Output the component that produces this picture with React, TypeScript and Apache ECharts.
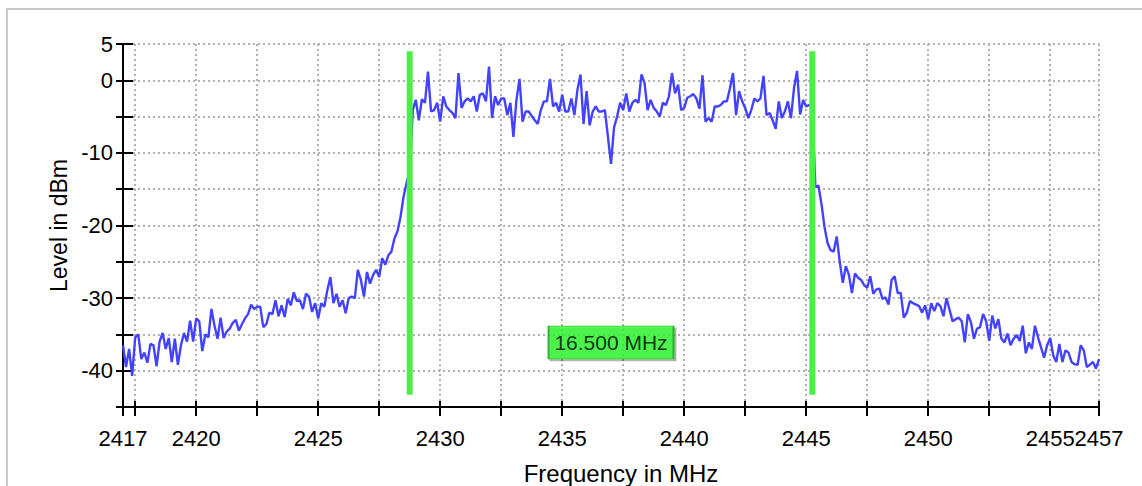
import React, { useEffect, useRef } from "react";
import * as echarts from "echarts";

// Sweep: first frequency and step (MHz); one level per sample (dBm)
const FREQ_START = 2417;
const FREQ_STEP = 0.125;
const levels = [
  -36.5, -39.5, -37.0, -40.7, -35.4, -35.0, -38.4, -37.5, -38.9, -36.3,
  -36.5, -39.4, -36.0, -34.8, -37.0, -35.5, -38.8, -35.6, -39.2, -36.5,
  -34.8, -36.0, -33.1, -36.0, -32.8, -33.2, -37.3, -35.0, -35.4, -31.5,
  -33.8, -35.6, -32.7, -35.5, -34.6, -34.2, -33.4, -33.0, -34.5, -33.6,
  -32.8, -32.2, -30.9, -31.5, -31.2, -31.2, -34.0, -33.6, -32.0, -32.2,
  -30.3, -32.5, -31.0, -32.6, -30.1, -31.0, -29.2, -30.4, -30.3, -31.5,
  -29.4, -29.8, -31.9, -30.7, -32.8, -30.7, -31.2, -28.9, -27.1, -30.7,
  -29.4, -31.2, -30.3, -32.1, -30.0, -29.8, -30.0, -26.1, -27.5, -29.8,
  -26.4, -28.0, -26.8, -26.1, -27.1, -24.5, -25.4, -24.1, -23.6, -21.8,
  -20.8, -18.8, -16.0, -14.1, -12.5, -4.1, -2.7, -5.5, -2.6, -3.1,
  1.2, -4.3, -4.1, -3.1, -5.7, -2.2, -3.6, -4.1, -4.5, -5.2,
  1.0, -3.8, -2.9, -2.5, -2.9, -2.2, -4.3, -2.0, -1.8, -2.9,
  1.9, -5.2, -2.2, -3.4, -2.5, -2.5, -4.8, -3.1, -7.8, -2.7,
  0.2, -5.7, -4.3, -4.3, -4.9, -5.5, -6.0, -4.1, -2.9, -2.9,
  0.2, -3.6, -3.1, -4.3, -2.0, -4.3, -4.3, -2.5, -4.8, -1.3,
  0.8, -6.0, -1.5, -6.2, -4.3, -3.6, -4.3, -4.3, -4.1, -7.8,
  -11.5, -6.5, -5.0, -3.1, -4.1, -1.8, -4.3, -3.1, -2.7, -3.1,
  0.8, -0.4, -4.1, -2.7, -3.8, -4.3, -5.0, -3.1, -3.4, -2.2,
  1.0, -1.8, -0.6, -4.1, -3.8, -2.4, -2.2, -1.9, -2.5, -3.9,
  0.7, -5.7, -5.2, -5.7, -3.6, -3.6, -3.4, -2.9, -2.9, -1.1,
  1.0, -4.8, -1.5, -2.9, -3.8, -5.2, -4.1, -2.5, -2.9, -2.5,
  0.6, -4.8, -4.5, -5.5, -6.7, -2.9, -5.2, -4.3, -2.9, -5.2,
  -1.1, 1.3, -4.7, -2.7, -3.6, -3.4, -3.6, -14.7, -14.5, -17.0,
  -20.2, -22.4, -23.4, -23.6, -21.5, -25.0, -27.9, -25.6, -26.8, -29.3,
  -26.6, -27.2, -27.5, -28.2, -28.6, -27.0, -29.4, -28.8, -28.7, -30.1,
  -29.9, -30.9, -27.5, -27.0, -29.3, -29.3, -32.7, -32.0, -30.4, -30.7,
  -30.9, -31.1, -32.0, -31.0, -32.9, -30.7, -31.8, -30.7, -31.1, -32.5,
  -30.0, -31.6, -33.2, -32.9, -32.7, -33.2, -36.1, -32.2, -33.3, -35.6,
  -34.2, -34.0, -32.2, -33.2, -35.9, -32.4, -34.2, -32.9, -35.6, -36.1,
  -34.9, -36.5, -35.6, -35.1, -35.9, -33.8, -37.6, -36.1, -37.0, -33.8,
  -35.4, -36.8, -38.2, -36.5, -35.5, -37.9, -38.8, -36.3, -38.8, -37.2,
  -37.5, -38.8, -39.1, -39.2, -36.5, -37.2, -39.5, -39.2, -38.8, -39.7, -38.4,
];

// Axes
const X_MIN = 2417;
const X_MAX = 2457;
const xTickValues = [2417, 2417.5, 2420, 2422.5, 2425, 2427.5, 2430, 2432.5, 2435, 2437.5, 2440, 2442.5, 2445, 2447.5, 2450, 2452.5, 2455, 2457];
const xLabelValues = [2417, 2420, 2425, 2430, 2435, 2440, 2445, 2450, 2455];
const xEndLabelValues = [2457];
const Y_MIN = -45;
const Y_MAX = 5;
const yLabelValues = [5, 0, -10, -20, -30, -40];

// Bandwidth markers
const markerFreqs = [2428.75, 2445.25];
const markerTop = 4;
const markerBottom = -43.3;
const spanLabelLevel = -36.1;

const FONT = "'Liberation Sans', Arial, Helvetica, sans-serif";

export default function App() {
  const ref = useRef<HTMLDivElement>(null);

  useEffect(() => {
    if (!ref.current) return;
    const chart = echarts.init(ref.current, null, { renderer: "svg" });

    const trace = levels.map((v, i) => [FREQ_START + i * FREQ_STEP, v]);
    const span = markerFreqs[1] - markerFreqs[0];
    const spanCenter = (markerFreqs[0] + markerFreqs[1]) / 2;

    const tickStyle = { color: "#000", width: 2 };
    const gridStyle = { color: "#b0b0b0", width: 2, type: [2, 3] as any };
    const tickLabel = {
      fontSize: 22,
      color: "#000",
      fontFamily: FONT,
      formatter: (v: number) => String(v),
    };

    const option: any = {
      animation: false,
      backgroundColor: "#fff",
      grid: {
        left: 123,
        top: 44,
        width: 976,
        height: 363,
        containLabel: false,
        outerBoundsMode: "none",
      },
      graphic: [
        {
          type: "rect",
          shape: { x: 7, y: 9, width: 1200, height: 600 },
          style: { fill: "none", stroke: "#c6c6c6", lineWidth: 2 },
          silent: true,
          z: -10,
        },
      ],
      xAxis: [
        {
          type: "value",
          min: X_MIN,
          max: X_MAX,
          position: "bottom",
          axisLine: { show: true, onZero: false, lineStyle: tickStyle },
          axisTick: { show: true, customValues: xTickValues, length: 9, inside: false, lineStyle: tickStyle },
          axisLabel: {
            ...tickLabel,
            customValues: xLabelValues,
            showMinLabel: true,
            hideOverlap: false,
            margin: 20,
          },
          splitLine: { show: true, lineStyle: gridStyle },
          name: "Frequency in MHz",
          nameLocation: "middle",
          nameGap: 54,
          nameTextStyle: { fontSize: 24, color: "#000", fontFamily: FONT, padding: [0, 0, 0, 20] },
        },
        {
          type: "value",
          min: X_MIN,
          max: X_MAX,
          position: "bottom",
          axisLine: { show: false, onZero: false },
          axisTick: { show: true, customValues: xTickValues, length: 6, inside: true, lineStyle: tickStyle },
          axisLabel: {
            ...tickLabel,
            customValues: xEndLabelValues,
            showMaxLabel: true,
            hideOverlap: false,
            margin: 20,
          },
          splitLine: { show: false },
        },
      ],
      yAxis: [
        {
          type: "value",
          min: Y_MIN,
          max: Y_MAX,
          interval: 5,
          position: "left",
          axisLine: { show: true, onZero: false, lineStyle: tickStyle },
          axisTick: { show: true, length: 7, inside: false, lineStyle: tickStyle },
          axisLabel: { ...tickLabel, customValues: yLabelValues, margin: 10 },
          splitLine: { show: true, lineStyle: gridStyle },
          name: "Level in dBm",
          nameLocation: "middle",
          nameGap: 52,
          nameTextStyle: { fontSize: 23, color: "#000", fontFamily: FONT },
        },
        {
          type: "value",
          min: Y_MIN,
          max: Y_MAX,
          interval: 5,
          position: "left",
          axisLine: { show: false, onZero: false },
          axisTick: { show: true, length: 10, inside: true, lineStyle: tickStyle },
          axisLabel: { show: false },
          splitLine: { show: false },
        },
      ],
      series: [
        {
          type: "line",
          name: "Level",
          data: trace,
          xAxisIndex: 0,
          yAxisIndex: 0,
          showSymbol: false,
          symbol: "none",
          lineStyle: { color: "#4242ff", width: 2.4 },
          z: 2,
        },
        ...markerFreqs.map((f) => ({
          type: "line",
          data: [
            [f, markerTop],
            [f, markerBottom],
          ],
          xAxisIndex: 0,
          yAxisIndex: 0,
          symbol: "none",
          lineStyle: { color: "#48f048", width: 6, cap: "butt" },
          z: 3,
        })),
        {
          type: "scatter",
          data: [[spanCenter, spanLabelLevel]],
          xAxisIndex: 0,
          yAxisIndex: 0,
          symbol: "rect",
          symbolSize: [125, 33],
          itemStyle: {
            color: "#30f830",
            borderColor: "#1a9a1a",
            borderWidth: 1,
            shadowColor: "rgba(0,0,0,0.35)",
            shadowOffsetX: 2,
            shadowOffsetY: 2,
            shadowBlur: 1,
          },
          label: {
            show: true,
            position: "inside",
            formatter: () => `${span.toFixed(3)} MHz`,
            fontSize: 21,
            color: "#000",
            fontFamily: FONT,
          },
          z: 4,
        },
      ],
    };

    chart.setOption(option);
    return () => chart.dispose();
  }, []);

  return (
    <div
      ref={ref}
      style={{ position: "fixed", left: 0, top: 0, width: 1142, height: 486, background: "#fff" }}
    />
  );
}
